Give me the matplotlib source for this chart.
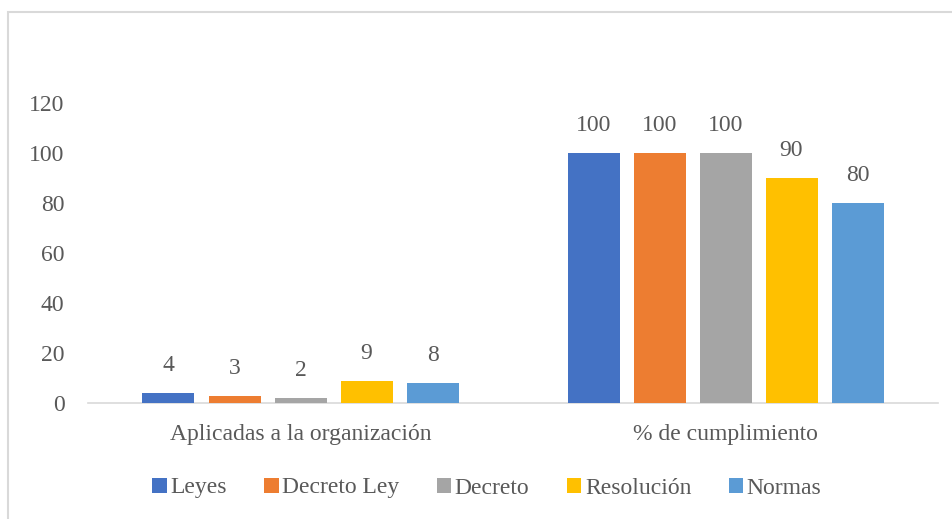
import matplotlib
matplotlib.use("Agg")
import matplotlib.pyplot as plt
from matplotlib.patches import Rectangle
import numpy as np

categories = ["Aplicadas a la organización", "% de cumplimiento"]
series_names = ["Leyes", "Decreto Ley", "Decreto", "Resolución", "Normas"]
leyes = [4, 100]
decreto_ley = [3, 100]
decreto = [2, 100]
resolucion = [9, 90]
normas = [8, 80]
series_values = [leyes, decreto_ley, decreto, resolucion, normas]
colors = ["#4472C4", "#ED7D31", "#A5A5A5", "#FFC000", "#5B9BD5"]
yticks = [0, 20, 40, 60, 80, 100, 120]

plt.rcParams['font.family'] = ['Liberation Serif', 'DejaVu Serif']
txt = "#595959"
fs = 17

W, H = 952, 519
fig = plt.figure(figsize=(W/100, H/100), dpi=100)
ax = fig.add_axes([88/W, (H-403)/H, (938-88)/W, (403-103)/H])

# chart border (light gray)
fig.patches.append(Rectangle((8/W, -0.5), 2, (H-12)/H + 0.5, transform=fig.transFigure,
                             fill=False, edgecolor="#D9D9D9", linewidth=1.5))

x = np.arange(len(categories))
width = 52/425
pitch = 66/425
n = len(series_values)
for i, (name, vals, c) in enumerate(zip(series_names, series_values, colors)):
    pos = x + (i - (n-1)/2) * pitch
    bars = ax.bar(pos, vals, width=width, color=c, label=name, zorder=3)
    for b, v in zip(bars, vals):
        ax.annotate(str(v), (b.get_x() + b.get_width()/2, v), xytext=(0, 12),
                    textcoords="offset points", ha="center", va="bottom",
                    fontsize=fs, color=txt)

ax.set_xlim(-0.5, 1.5)
ax.set_ylim(0, 120)
ax.set_yticks(yticks)
ax.set_xticks(x)
ax.set_xticklabels(categories)
ax.tick_params(axis="both", length=0, labelsize=fs, labelcolor=txt)
ax.tick_params(axis="y", pad=17)
ax.tick_params(axis="x", pad=15)
for s in ["top", "right", "left"]:
    ax.spines[s].set_visible(False)
ax.spines["bottom"].set_color("#D9D9D9")
ax.spines["bottom"].set_linewidth(1.2)

leg = fig.legend(loc="center", bbox_to_anchor=(487/W, (H-488)/H), ncol=5, frameon=False,
                 fontsize=fs, handlelength=0.6, handleheight=0.6, handletextpad=0.15,
                 columnspacing=1.6, labelcolor=txt)

fig.savefig("out.png", dpi=100)
